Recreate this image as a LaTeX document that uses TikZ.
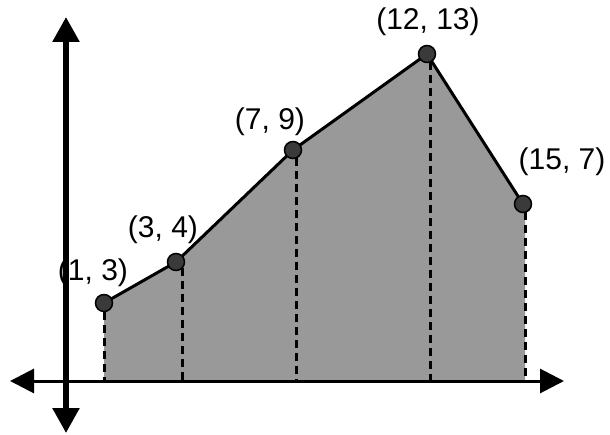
\documentclass[tikz,border=0pt]{standalone}
\usepackage{fontspec}
\setmainfont{Liberation Sans}
\usetikzlibrary{arrows.meta}
\definecolor{areagray}{RGB}{153,153,153}
\definecolor{dotgray}{RGB}{58,58,58}
\tikzset{
  vaxis/.style={line width=5.5pt,{Triangle[width=26pt,length=25pt]}-{Triangle[width=26pt,length=25pt]}},
  haxis/.style={line width=3pt,{Triangle[width=24pt,length=24pt]}-{Triangle[width=24pt,length=24pt]}},
  curve/.style={line width=3pt,line join=round},
  dropline/.style={line width=3pt,dash pattern=on 8pt off 5pt},
  ptdot/.style={circle,draw=black,fill=dotgray,line width=1.5pt,minimum size=17pt,inner sep=0pt},
  lbl/.style={font=\fontsize{30}{34}\selectfont,inner sep=0pt}
}
\begin{document}
\begin{tikzpicture}[x=1pt,y=-1pt]
\useasboundingbox (0,0) rectangle (610,435);
% points
\coordinate (p1) at (104,303);
\coordinate (p2) at (176,262);
\coordinate (p3) at (293,150);
\coordinate (p4) at (427,54);
\coordinate (p5) at (523,204);
% dashed line ends
\coordinate (t1) at (104,312); \coordinate (b1) at (104,380);
\coordinate (t2) at (182,268); \coordinate (b2) at (182,380);
\coordinate (t3) at (296,158); \coordinate (b3) at (296,380);
\coordinate (t4) at (430,62);  \coordinate (b4) at (430,380);
\coordinate (t5) at (525,212); \coordinate (b5) at (525,380);
% axes ends
\coordinate (ytop) at (66,17);
\coordinate (ybot) at (66,433);
\coordinate (xl) at (10,381);
\coordinate (xr) at (564,381);
% shaded area
\fill[areagray] (b1) -- (p1) -- (p2) -- (p3) -- (p4) -- (p5) -- (525,204) -- (b5) -- cycle;
% dashed verticals
\draw[dropline] (t1) -- (b1);
\draw[dropline] (t2) -- (b2);
\draw[dropline] (t3) -- (b3);
\draw[dropline] (t4) -- (b4);
\draw[dropline] (t5) -- (b5);
% labels
\node[lbl] (l1) at (93,273) {(1, 3)};
\node[lbl] (l2) at (163,230) {(3, 4)};
\node[lbl] (l3) at (270,122) {(7, 9)};
\node[lbl] (l4) at (428,22) {(12, 13)};
\node[lbl] (l5) at (562,162) {(15, 7)};
% axes
\draw[haxis] (xl) -- (xr);
\draw[vaxis] (ybot) -- (ytop);
% polyline
\draw[curve] (p1) -- (p2) -- (p3) -- (p4) -- (p5);
% dots
\node[ptdot] (d1) at (p1) {};
\node[ptdot] (d2) at (p2) {};
\node[ptdot] (d3) at (p3) {};
\node[ptdot] (d4) at (p4) {};
\node[ptdot] (d5) at (p5) {};
\end{tikzpicture}
\end{document}
